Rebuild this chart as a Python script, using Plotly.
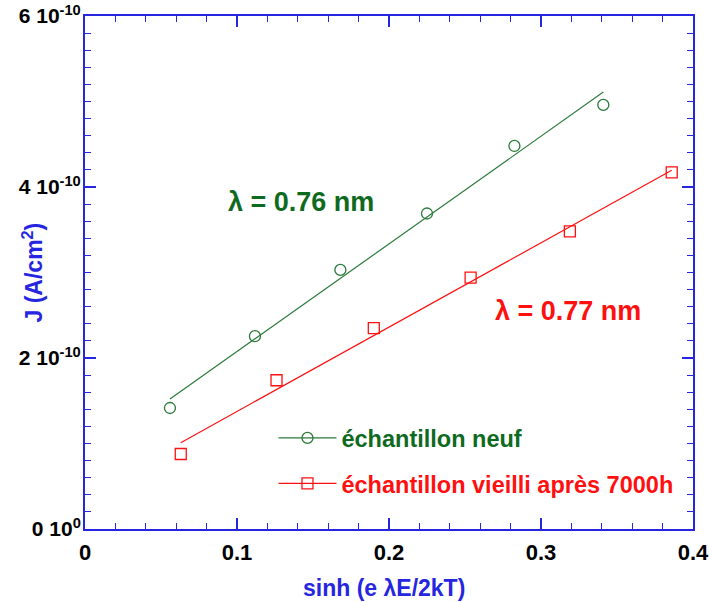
import plotly.graph_objects as go

# --- data (J in A/cm^2) ---
x_new = [0.0559, 0.1118, 0.168, 0.225, 0.2825, 0.341]
y_new = [1.415e-10, 2.255e-10, 3.03e-10, 3.69e-10, 4.48e-10, 4.96e-10]
x_new_fit = [0.0559, 0.341]
y_new_fit = [1.52e-10, 5.11e-10]

x_old = [0.063, 0.126, 0.190, 0.2537, 0.319, 0.386]
y_old = [0.877e-10, 1.74e-10, 2.35e-10, 2.94e-10, 3.48e-10, 4.17e-10]
x_old_fit = [0.063, 0.386]
y_old_fit = [1.01e-10, 4.195e-10]

y_tickvals = [0, 2e-10, 4e-10, 6e-10]
y_ticktext = ["<b>0 10<sup>0</sup></b>", "<b>2 10<sup>-10</sup></b>",
              "<b>4 10<sup>-10</sup></b>", "<b>6 10<sup>-10</sup></b>"]
x_tickvals = [0, 0.1, 0.2, 0.3, 0.4]
x_ticktext = ["<b>0</b>", "<b>0.1</b>", "<b>0.2</b>", "<b>0.3</b>", "<b>0.4</b>"]

GREEN_LINE = "#2b7a3b"
GREEN_TEXT = "#0e6a1e"
RED = "#ff1010"
BLUE = "#2626e0"
FONT = "Arial, Liberation Sans, sans-serif"

fig = go.Figure()
fig.add_trace(go.Scatter(x=x_new_fit, y=y_new_fit, mode="lines",
                         line=dict(color=GREEN_LINE, width=1.2), showlegend=False))
fig.add_trace(go.Scatter(x=x_new, y=y_new, mode="markers",
                         marker=dict(symbol="circle-open", size=11, color=GREEN_LINE,
                                     line=dict(width=1.3, color=GREEN_LINE)),
                         showlegend=False))
fig.add_trace(go.Scatter(x=x_old_fit, y=y_old_fit, mode="lines",
                         line=dict(color=RED, width=1.2), showlegend=False))
fig.add_trace(go.Scatter(x=x_old, y=y_old, mode="markers",
                         marker=dict(symbol="square-open", size=11, color=RED,
                                     line=dict(width=1.3, color=RED)),
                         showlegend=False))

# legend entries
fig.add_trace(go.Scatter(x=[None], y=[None], mode="lines+markers",
                         line=dict(color=GREEN_LINE, width=1.2),
                         marker=dict(symbol="circle-open", size=11, color=GREEN_LINE,
                                     line=dict(width=1.3, color=GREEN_LINE)),
                         name=f"<span style='color:{GREEN_TEXT}'><b>échantillon neuf</b></span>",
                         legendgroup="a"))
fig.add_trace(go.Scatter(x=[None], y=[None], mode="lines+markers",
                         line=dict(color=RED, width=1.2),
                         marker=dict(symbol="square-open", size=11, color=RED,
                                     line=dict(width=1.3, color=RED)),
                         name=f"<span style='color:{RED}'><b>échantillon vieilli après 7000h</b></span>",
                         legendgroup="b"))

fig.add_annotation(x=0.142, y=3.82e-10, xref="x", yref="y", showarrow=False,
                   text="<b>λ = 0.76 nm</b>", font=dict(family=FONT, size=27, color=GREEN_TEXT))
fig.add_annotation(x=0.318, y=2.55e-10, xref="x", yref="y", showarrow=False,
                   text="<b>λ = 0.77 nm</b>", font=dict(family=FONT, size=27, color=RED))

# axis titles
fig.add_annotation(x=0, y=0.5, xref="paper", yref="paper", xanchor="center", yanchor="middle",
                   xshift=-53, textangle=-90, showarrow=False,
                   text="<b>J (A/cm<sup>2</sup>)</b>", font=dict(family=FONT, size=23, color=BLUE))
fig.add_annotation(x=0.491, y=0, xref="paper", yref="paper", xanchor="center", yanchor="middle",
                   yshift=-59, showarrow=False,
                   text="<b>sinh (e λE/2kT)</b>", font=dict(family=FONT, size=23, color=BLUE))

axis_common = dict(showline=True, linecolor=BLUE, linewidth=2, mirror="ticks",
                   ticks="inside", tickcolor=BLUE, tickwidth=1.5, ticklen=11,
                   showgrid=False, zeroline=False, automargin=False,
                   ticklabeloverflow="allow")

fig.update_xaxes(range=[0, 0.4], tickvals=x_tickvals, ticktext=x_ticktext,
                 minor=dict(dtick=0.02, ticks="inside", ticklen=6, tickcolor=BLUE, tickwidth=1.2),
                 ticklabelstandoff=3, tickfont=dict(family=FONT, size=22, color="black"),
                 **axis_common)
fig.update_yaxes(range=[0, 6e-10], tickvals=y_tickvals, ticktext=y_ticktext,
                 minor=dict(dtick=0.2e-10, ticks="inside", ticklen=6, tickcolor=BLUE, tickwidth=1.2),
                 ticklabelstandoff=-2, tickfont=dict(family=FONT, size=21, color="black"),
                 **axis_common)

fig.update_layout(
    width=709, height=602,
    margin=dict(l=85, r=16, t=16, b=73),
    plot_bgcolor="white", paper_bgcolor="white",
    font=dict(family=FONT),
    legend=dict(x=0.31, y=0.22, xanchor="left", yanchor="top",
                bgcolor="rgba(0,0,0,0)", font=dict(family=FONT, size=23.5),
                traceorder="grouped", tracegroupgap=12, itemwidth=58),
)

# remove the default page margin so the figure fills the window exactly
fig.write_html("out.html", config={"displayModeBar": False},
               post_script="document.body.style.margin='0';")
